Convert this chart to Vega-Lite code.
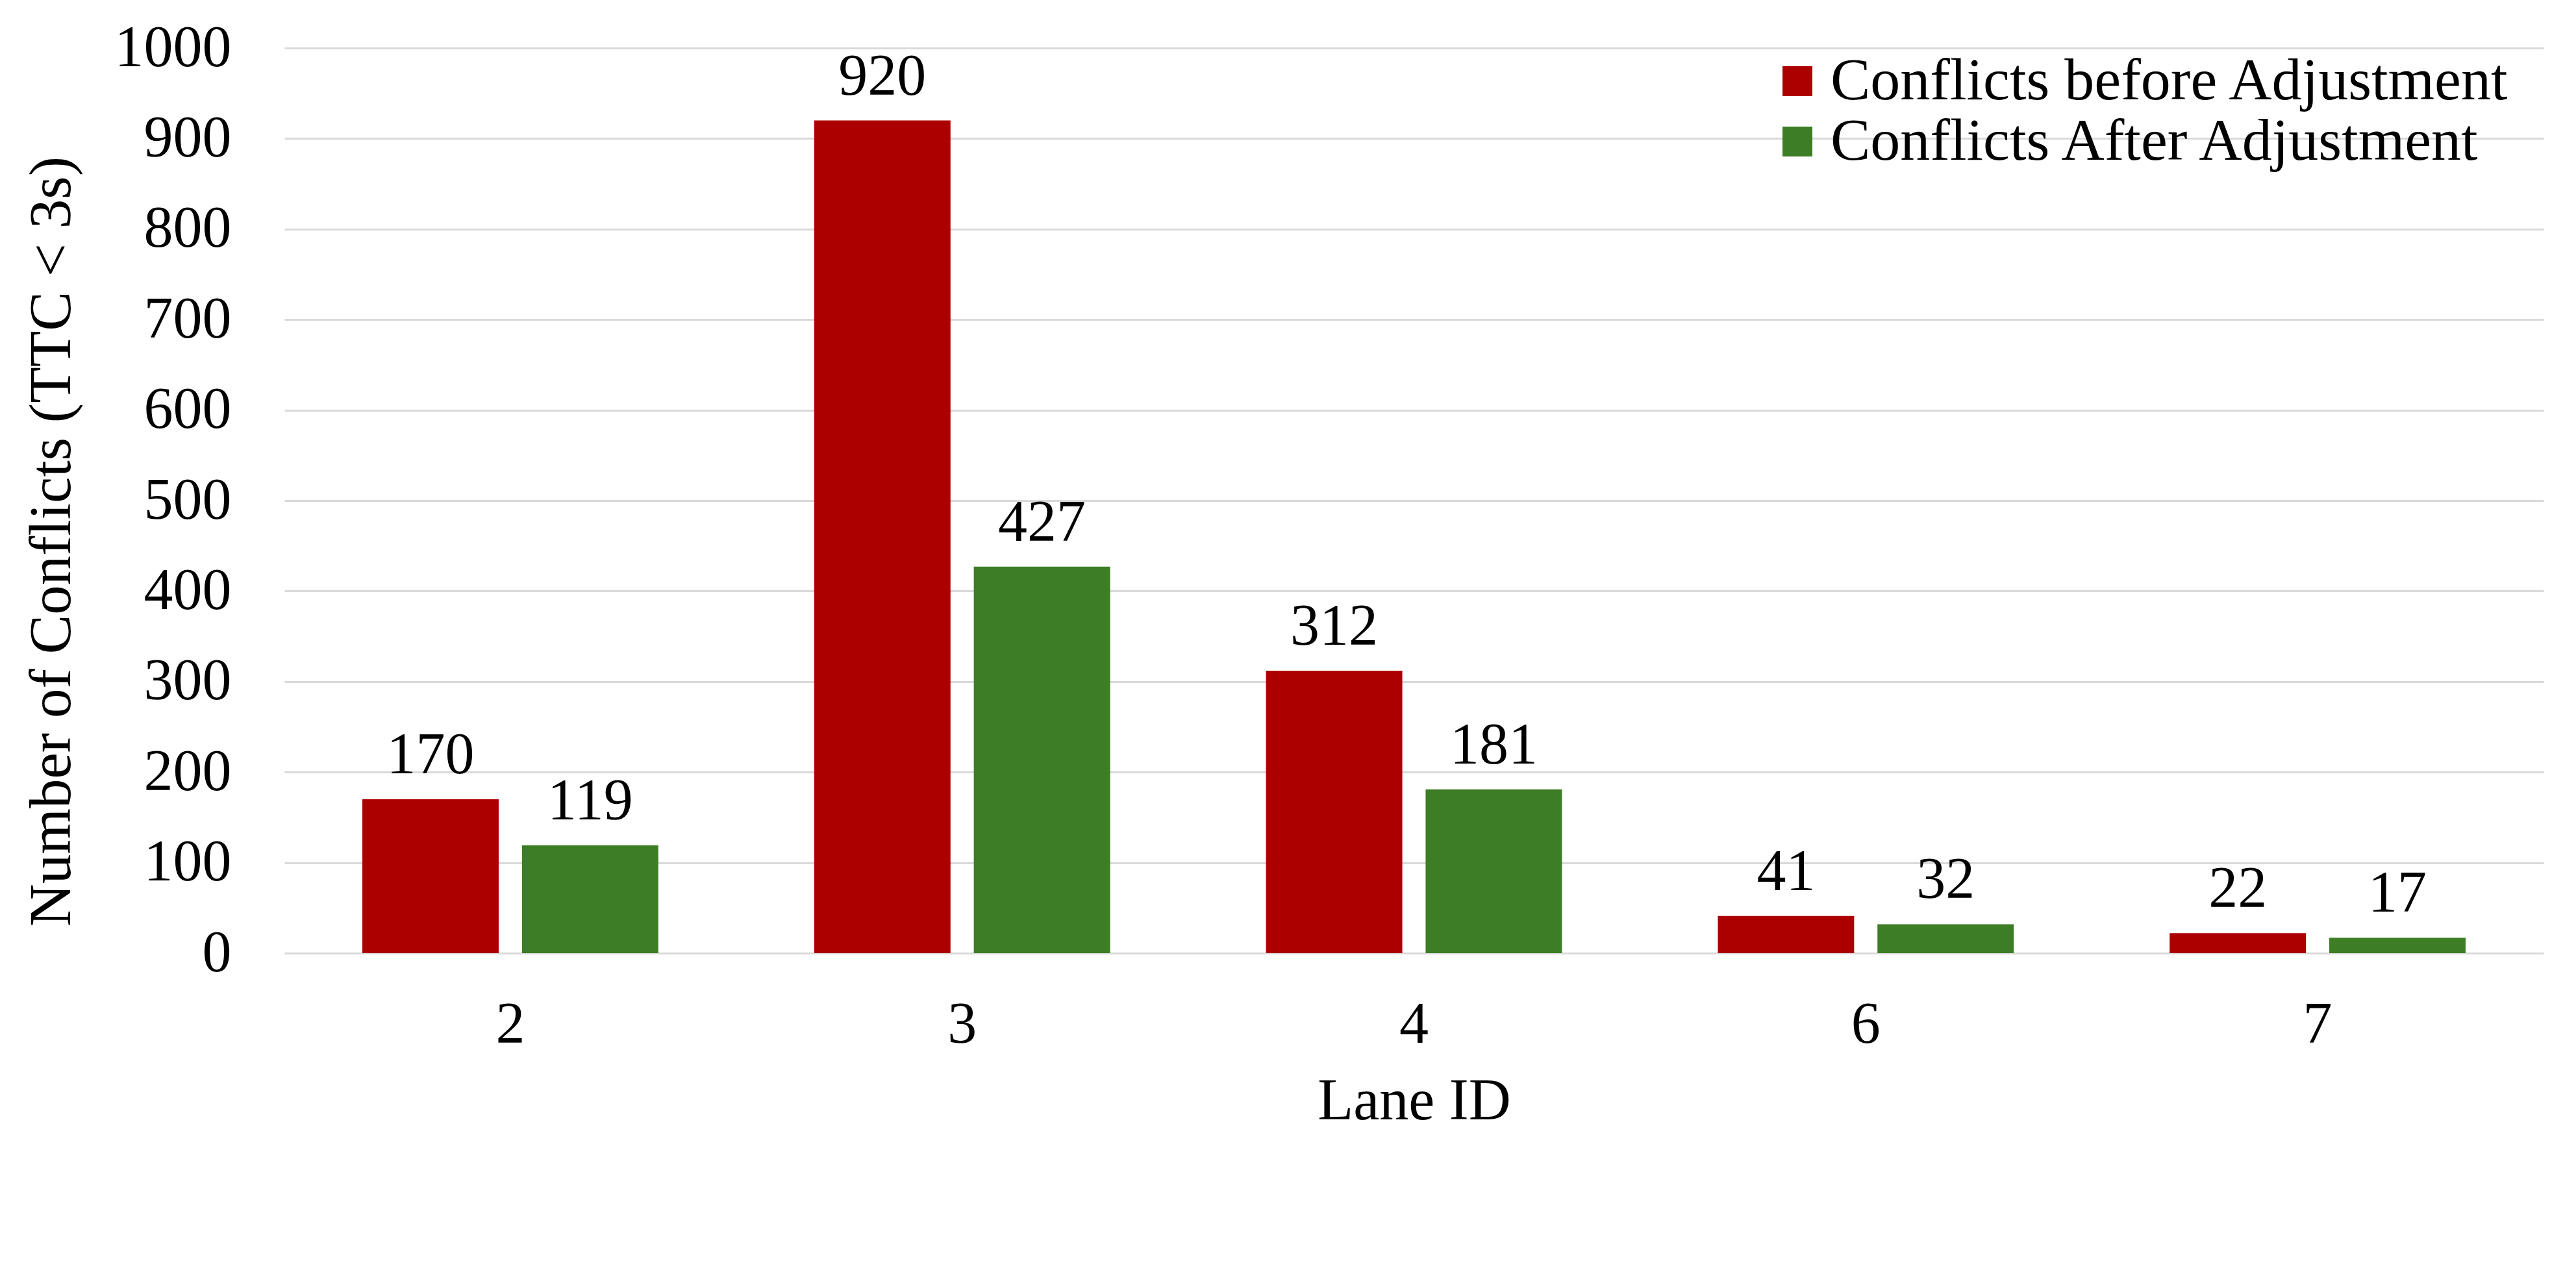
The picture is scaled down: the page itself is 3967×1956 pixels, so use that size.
{
  "$schema": "https://vega.github.io/schema/vega-lite/v6.json",
  "width": 3479,
  "height": 1394,
  "autosize": "none",
  "padding": {"left": 438, "top": 74, "right": 50, "bottom": 488},
  "background": "white",
  "config": {"view": {"stroke": null}, "font": "Liberation Serif"},
  "data": {
    "values": [
      {"lane": "2", "series": "Conflicts before Adjustment", "value": 170},
      {"lane": "2", "series": "Conflicts After Adjustment", "value": 119},
      {"lane": "3", "series": "Conflicts before Adjustment", "value": 920},
      {"lane": "3", "series": "Conflicts After Adjustment", "value": 427},
      {"lane": "4", "series": "Conflicts before Adjustment", "value": 312},
      {"lane": "4", "series": "Conflicts After Adjustment", "value": 181},
      {"lane": "6", "series": "Conflicts before Adjustment", "value": 41},
      {"lane": "6", "series": "Conflicts After Adjustment", "value": 32},
      {"lane": "7", "series": "Conflicts before Adjustment", "value": 22},
      {"lane": "7", "series": "Conflicts After Adjustment", "value": 17}
    ]
  },
  "encoding": {
    "x": {
      "field": "lane",
      "type": "nominal",
      "sort": ["2", "3", "4", "6", "7"],
      "scale": {"paddingInner": 0.345, "paddingOuter": 0.1725},
      "axis": {
        "title": "Lane ID",
        "titleFont": "Liberation Serif",
        "titleFontSize": 90,
        "titleFontWeight": "normal",
        "titleColor": "black",
        "titleX": 1739.5,
        "titleY": 255,
        "titleAlign": "center",
        "titleBaseline": "alphabetic",
        "labelFont": "Liberation Serif",
        "labelFontSize": 90,
        "labelColor": "black",
        "labelAngle": 0,
        "labelBaseline": "alphabetic",
        "labelPadding": 137,
        "ticks": false,
        "tickSize": 0,
        "domain": false,
        "grid": false
      }
    },
    "xOffset": {
      "field": "series",
      "type": "nominal",
      "sort": ["Conflicts before Adjustment", "Conflicts After Adjustment"],
      "scale": {"paddingInner": 0.146, "paddingOuter": 0}
    },
    "y": {
      "field": "value",
      "type": "quantitative",
      "scale": {"domain": [0, 1000], "nice": false},
      "axis": {
        "title": "Number of Conflicts (TTC < 3s)",
        "titleFont": "Liberation Serif",
        "titleFontSize": 91,
        "titleFontWeight": "normal",
        "titleColor": "black",
        "titleAngle": -90,
        "titleX": -331,
        "titleY": 759.5,
        "titleAlign": "center",
        "titleBaseline": "alphabetic",
        "format": "d",
        "labelFont": "Liberation Serif",
        "labelFontSize": 90,
        "labelColor": "black",
        "labelAlign": "right",
        "labelBaseline": "middle",
        "labelPadding": 82,
        "labelLimit": 1000,
        "ticks": false,
        "tickSize": 0,
        "domain": false,
        "grid": true,
        "gridColor": "#D9D9D9",
        "gridWidth": 3,
        "values": [0, 100, 200, 300, 400, 500, 600, 700, 800, 900, 1000]
      }
    }
  },
  "layer": [
    {
      "mark": {"type": "bar", "strokeWidth": 0},
      "encoding": {
        "color": {
          "field": "series",
          "type": "nominal",
          "scale": {
            "domain": ["Conflicts before Adjustment", "Conflicts After Adjustment"],
            "range": ["#AC0000", "#3D7D25"]
          },
          "legend": {
            "title": null,
            "orient": "none",
            "legendX": 2284,
            "legendY": 5,
            "symbolType": "square",
            "symbolSize": 2116,
            "symbolStrokeWidth": 0,
            "labelFont": "Liberation Serif",
            "labelFontSize": 92,
            "labelColor": "black",
            "labelLimit": 3000,
            "labelOffset": 5,
            "rowPadding": 1,
            "padding": 0
          }
        }
      }
    },
    {
      "mark": {
        "type": "text",
        "baseline": "alphabetic",
        "align": "center",
        "dy": -40,
        "font": "Liberation Serif",
        "fontSize": 90,
        "color": "black"
      },
      "encoding": {
        "text": {"field": "value", "type": "quantitative"}
      }
    }
  ]
}
